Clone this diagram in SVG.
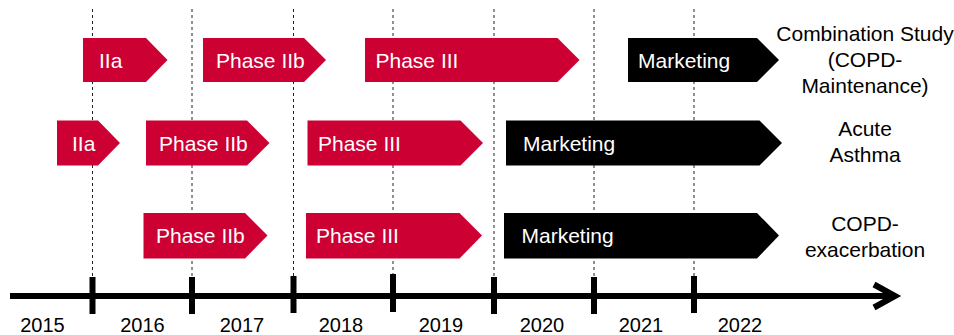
<svg xmlns="http://www.w3.org/2000/svg" width="954" height="335" viewBox="0 0 954 335">
  <style>
    .phase { fill: #cc0033; }
    .market { fill: #000000; }
    .lbl { font-family: "Liberation Sans", Arial, sans-serif; font-size: 21px; fill: #ffffff; }
    .side { font-family: "Liberation Sans", Arial, sans-serif; font-size: 21px; fill: #000000; text-anchor: middle; }
    .year { font-family: "Liberation Sans", Arial, sans-serif; font-size: 20px; fill: #000000; text-anchor: middle; }
    .grid { stroke: #222222; stroke-width: 1; stroke-dasharray: 3 3; fill: none; }
    .tick { stroke: #000000; stroke-width: 6; fill: none; }
  </style>

  <!-- year separators -->
  <g id="gridlines">
    <line class="grid" x1="92.5" y1="9" x2="92.5" y2="296"/>
    <line class="grid" x1="192" y1="9" x2="192" y2="296"/>
    <line class="grid" x1="293.5" y1="9" x2="293.5" y2="296"/>
    <line class="grid" x1="393" y1="9" x2="393" y2="296"/>
    <line class="grid" x1="494" y1="9" x2="494" y2="296"/>
    <line class="grid" x1="594" y1="9" x2="594" y2="296"/>
    <line class="grid" x1="694" y1="9" x2="694" y2="296"/>
  </g>

  <!-- Row 1: Combination Study (COPD-Maintenance) -->
  <g id="row1-iia">
    <polygon class="phase" points="83,38 146,38 167.5,60 146,82 83,82"/>
    <text class="lbl" x="99" y="67.5">IIa</text>
  </g>
  <g id="row1-phase-iib">
    <polygon class="phase" points="203,38 304,38 326,60 304,82 203,82"/>
    <text class="lbl" x="216" y="67.5">Phase IIb</text>
  </g>
  <g id="row1-phase-iii">
    <polygon class="phase" points="365,38 557.5,38 579.5,60 557.5,82 365,82"/>
    <text class="lbl" x="375.5" y="67.5">Phase III</text>
  </g>
  <g id="row1-marketing">
    <polygon class="market" points="628,38 757,38 779,60 757,82 628,82"/>
    <text class="lbl" x="638" y="67.5">Marketing</text>
  </g>
  <g id="row1-label">
    <text class="side" x="865" y="40.5">Combination Study</text>
    <text class="side" x="865" y="66.5">(COPD-</text>
    <text class="side" x="865" y="92.5">Maintenance)</text>
  </g>

  <!-- Row 2: Acute Asthma -->
  <g id="row2-iia">
    <polygon class="phase" points="57,120.5 98,120.5 120,143 98,165.5 57,165.5"/>
    <text class="lbl" x="72" y="150.5">IIa</text>
  </g>
  <g id="row2-phase-iib">
    <polygon class="phase" points="146,120.5 247,120.5 269.5,143 247,165.5 146,165.5"/>
    <text class="lbl" x="159" y="150.5">Phase IIb</text>
  </g>
  <g id="row2-phase-iii">
    <polygon class="phase" points="307.5,120.5 460.5,120.5 483,143 460.5,165.5 307.5,165.5"/>
    <text class="lbl" x="318" y="150.5">Phase III</text>
  </g>
  <g id="row2-marketing">
    <polygon class="market" points="506,120.5 759.5,120.5 782,143 759.5,165.5 506,165.5"/>
    <text class="lbl" x="523" y="150.5">Marketing</text>
  </g>
  <g id="row2-label">
    <text class="side" x="865" y="136">Acute</text>
    <text class="side" x="865" y="162">Asthma</text>
  </g>

  <!-- Row 3: COPD-exacerbation -->
  <g id="row3-phase-iib">
    <polygon class="phase" points="143.5,213 245,213 267.5,235.5 245,258.5 143.5,258.5"/>
    <text class="lbl" x="156" y="243">Phase IIb</text>
  </g>
  <g id="row3-phase-iii">
    <polygon class="phase" points="306,213 459.5,213 482,235.5 459.5,258.5 306,258.5"/>
    <text class="lbl" x="316" y="243">Phase III</text>
  </g>
  <g id="row3-marketing">
    <polygon class="market" points="504,213 757,213 779,235.5 757,258.5 504,258.5"/>
    <text class="lbl" x="521.5" y="243">Marketing</text>
  </g>
  <g id="row3-label">
    <text class="side" x="865" y="230.5">COPD-</text>
    <text class="side" x="865" y="256.5">exacerbation</text>
  </g>

  <!-- time axis -->
  <g id="axis">
    <line x1="10" y1="296" x2="894" y2="296" stroke="#000" stroke-width="6"/>
    <polyline points="874,284.5 895,296 874,307.5" fill="none" stroke="#000" stroke-width="6" stroke-linejoin="miter" stroke-linecap="butt"/>
    <line class="tick" x1="92.5" y1="277" x2="92.5" y2="314"/>
    <line class="tick" x1="192" y1="277" x2="192" y2="314"/>
    <line class="tick" x1="293.5" y1="276" x2="293.5" y2="313"/>
    <line class="tick" x1="393" y1="274" x2="393" y2="312"/>
    <line class="tick" x1="494" y1="277" x2="494" y2="314"/>
    <line class="tick" x1="594" y1="277" x2="594" y2="314"/>
    <line class="tick" x1="694" y1="276" x2="694" y2="313"/>
  </g>

  <g id="years">
    <text class="year" x="42.5" y="331.5">2015</text>
    <text class="year" x="142.5" y="331.5">2016</text>
    <text class="year" x="242" y="331.5">2017</text>
    <text class="year" x="341" y="331.5">2018</text>
    <text class="year" x="441" y="331.5">2019</text>
    <text class="year" x="542" y="331.5">2020</text>
    <text class="year" x="641" y="331.5">2021</text>
    <text class="year" x="740" y="331.5">2022</text>
  </g>
</svg>
